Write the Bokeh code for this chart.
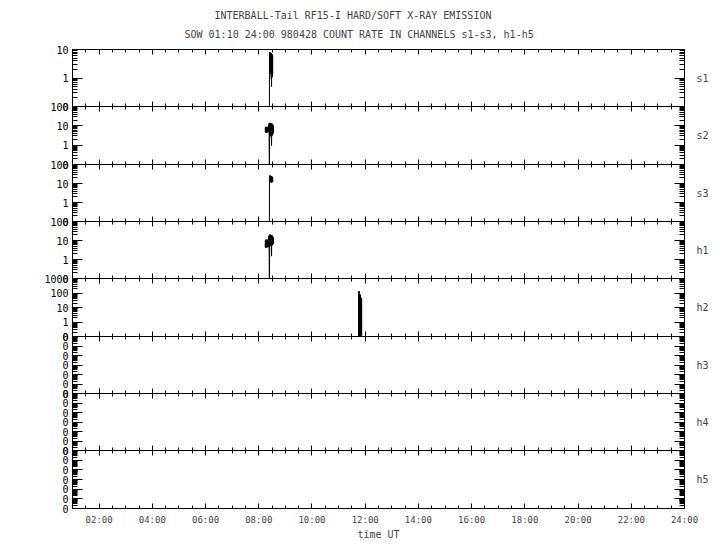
from bokeh.plotting import figure
from bokeh.models import (Range1d, LogAxis, LinearAxis, FixedTicker,
                          NumeralTickFormatter, Title)
from bokeh.layouts import column
from bokeh.embed import file_html
from bokeh.resources import INLINE

TITLE1 = "INTERBALL-Tail RF15-I HARD/SOFT X-RAY EMISSION"
TITLE2 = "SOW 01:10 24:00 980428  COUNT RATE IN CHANNELS s1-s3, h1-h5"
X_LABEL = "time UT"

channels = ["s1", "s2", "s3", "h1", "h2", "h3", "h4", "h5"]
y_lo_exp = [-1, -1, -1, -1, -1, -7, -7, -7]
y_hi_exp = [1, 2, 2, 2, 3, -1, -1, -1]

x_start, x_end = 1.0, 24.0
hour_ticks = [2, 4, 6, 8, 10, 12, 14, 16, 18, 20, 22, 24]
hour_labels = ["02:00", "04:00", "06:00", "08:00", "10:00", "12:00",
               "14:00", "16:00", "18:00", "20:00", "22:00", "24:00"]

# time in decimal hours UT, count rates (0.01 = zero count, below scale)
s1_t = [8.400, 8.403, 8.410, 8.415, 8.420, 8.425, 8.430, 8.435, 8.440, 8.445,
        8.450, 8.455, 8.460, 8.465, 8.470, 8.475, 8.480, 8.485, 8.490, 8.495,
        8.500, 8.505, 8.510, 8.515, 8.520, 8.525]
s1_v = [0.01, 7.8, 1.6, 7.9, 1.5, 7.6, 1.8, 7.7, 1.4, 7.5,
        2.0, 7.6, 1.5, 7.3, 0.9, 7.4, 0.5, 7.0, 1.0, 6.8,
        1.1, 6.5, 1.2, 6.2, 1.3, 6.0]

s2_t = [8.24, 8.25, 8.26, 8.27, 8.28, 8.29, 8.30, 8.31, 8.32, 8.33, 8.34,
        8.35, 8.36, 8.37, 8.38, 8.39, 8.40, 8.41, 8.42, 8.43, 8.44, 8.45,
        8.46, 8.47, 8.48, 8.49, 8.50, 8.51, 8.52, 8.53, 8.54, 8.55, 8.56]
s2_v = [5.0, 8.5, 4.4, 8.9, 4.6, 8.0, 4.4, 9.0, 5.0, 8.6, 4.5,
        8.8, 4.8, 9.5, 13.0, 3.0, 0.01, 14.3, 3.2, 13.5, 2.9, 14.0,
        3.5, 12.8, 0.95, 13.0, 3.1, 12.0, 3.4, 11.5, 4.0, 10.0, 5.0]

s3_t = [8.400, 8.403, 8.410, 8.420, 8.430, 8.440, 8.450, 8.460, 8.470,
        8.480, 8.490, 8.500, 8.510, 8.520, 8.530]
s3_v = [0.01, 26.0, 11.0, 25.0, 12.0, 26.0, 11.5, 24.0, 12.0,
        25.0, 11.0, 23.0, 13.0, 22.0, 12.0]

h1_t = [8.24, 8.25, 8.26, 8.27, 8.28, 8.29, 8.30, 8.31, 8.32, 8.33, 8.34,
        8.35, 8.36, 8.37, 8.38, 8.39, 8.40, 8.41, 8.42, 8.43, 8.44, 8.45,
        8.46, 8.47, 8.48, 8.49, 8.50, 8.51, 8.52, 8.53, 8.54, 8.55, 8.56]
h1_v = [4.5, 10.5, 4.1, 11.3, 4.8, 10.0, 4.2, 11.0, 5.0, 10.8, 4.4,
        11.2, 4.6, 12.0, 18.0, 5.0, 0.01, 20.7, 5.2, 19.5, 5.0, 20.0,
        6.0, 18.5, 1.5, 19.0, 5.5, 17.5, 6.0, 16.0, 6.5, 14.0, 7.0]

h2_t = [11.750, 11.755, 11.760, 11.765, 11.770, 11.775, 11.780, 11.785,
        11.790, 11.795, 11.800, 11.805, 11.810, 11.815, 11.820, 11.825,
        11.830, 11.835, 11.840, 11.845, 11.850, 11.855, 11.860, 11.865,
        11.870]
h2_v = [0.01, 128.0, 0.01, 127.0, 0.01, 125.0, 0.01, 120.0,
        0.01, 80.0, 0.01, 76.0, 0.01, 74.0, 0.01, 70.0,
        0.01, 46.0, 0.01, 45.0, 0.01, 44.0, 0.01, 43.0,
        0.01]

h3_t, h3_v = [], []
h4_t, h4_v = [], []
h5_t, h5_v = [], []

series_t = [s1_t, s2_t, s3_t, h1_t, h2_t, h3_t, h4_t, h5_t]
series_v = [s1_v, s2_v, s3_v, h1_v, h2_v, h3_v, h4_v, h5_v]

FONT = "DejaVu Sans Mono"
frame_heights = [57, 58, 57, 57, 58, 57, 57, 58]
BORDER = 8

minor_x = [x_start + 0.5 * k for k in range(int((x_end - x_start) * 2) + 1)]
x_labels = {h: lab for h, lab in zip(hour_ticks, hour_labels)}

hidden = dict(major_label_text_font_size="1px", major_label_text_color=None,
              major_label_standoff=0)

figs = []
n = len(channels)
for i, ch in enumerate(channels):
    first = i == 0
    last = i == n - 1
    lo, hi = y_lo_exp[i], y_hi_exp[i]
    p = figure(frame_width=612, frame_height=frame_heights[i],
               x_range=Range1d(x_start, x_end),
               y_range=Range1d(10.0 ** lo, 10.0 ** hi),
               y_axis_type="log", x_axis_location=None, y_axis_location=None,
               output_backend="svg", toolbar_location=None,
               title_location=None,
               min_border_left=72, min_border_right=28,
               min_border_top=49 if first else BORDER,
               min_border_bottom=BORDER,
               background_fill_color=None, border_fill_color=None,
               outline_line_color="black", outline_line_width=1)
    p.grid.visible = False
    if not first:
        p.margin = (-2 * BORDER, 0, 0, 0)

    majors = [10.0 ** k for k in range(lo, hi + 1)]
    minors = [m * 10.0 ** k for k in range(lo, hi) for m in range(2, 10)]

    left = LogAxis(ticker=FixedTicker(ticks=majors, minor_ticks=minors),
                   formatter=NumeralTickFormatter(format="0"),
                   major_tick_in=10, major_tick_out=0,
                   minor_tick_in=5, minor_tick_out=0,
                   major_label_standoff=4,
                   major_label_text_font=FONT,
                   major_label_text_font_size="10px",
                   major_label_text_color="black",
                   axis_line_color="black")
    right = LogAxis(ticker=FixedTicker(ticks=majors, minor_ticks=minors),
                    major_tick_in=10, major_tick_out=0,
                    minor_tick_in=5, minor_tick_out=0,
                    axis_label=ch, axis_label_orientation="horizontal",
                    axis_label_standoff=12,
                    axis_label_text_font=FONT,
                    axis_label_text_font_style="normal",
                    axis_label_text_font_size="10px",
                    axis_line_color="black", **hidden)
    top = LinearAxis(ticker=FixedTicker(ticks=hour_ticks, minor_ticks=minor_x),
                     major_tick_in=5, major_tick_out=0,
                     minor_tick_in=3, minor_tick_out=0,
                     axis_line_color="black", **hidden)
    bottom_kw = dict(ticker=FixedTicker(ticks=hour_ticks, minor_ticks=minor_x),
                     major_tick_in=5, major_tick_out=0,
                     minor_tick_in=3, minor_tick_out=0,
                     axis_line_color="black")
    if last:
        bottom = LinearAxis(major_label_overrides=x_labels,
                            major_label_standoff=6,
                            major_label_text_font=FONT,
                            major_label_text_font_size="9px",
                            axis_label=X_LABEL, axis_label_standoff=1,
                            axis_label_text_font=FONT,
                            axis_label_text_font_style="normal",
                            axis_label_text_font_size="10px",
                            **bottom_kw)
    else:
        bottom = LinearAxis(**hidden, **bottom_kw)
    p.add_layout(left, "left")
    p.add_layout(right, "right")
    p.add_layout(top, "above")
    p.add_layout(bottom, "below")

    if first:
        p.add_layout(Title(text=TITLE2, align="left", offset=112,
                           text_font=FONT, text_font_size="10px",
                           text_font_style="normal", standoff=20), "above")
        p.add_layout(Title(text=TITLE1, align="left", offset=142,
                           text_font=FONT, text_font_size="10px",
                           text_font_style="normal", standoff=-9), "above")

    p.line(series_t[i], series_v[i], line_color="black", line_width=1)
    figs.append(p)

layout = column(*figs, spacing=0)
open("out.html", "w").write(file_html(layout, INLINE))
